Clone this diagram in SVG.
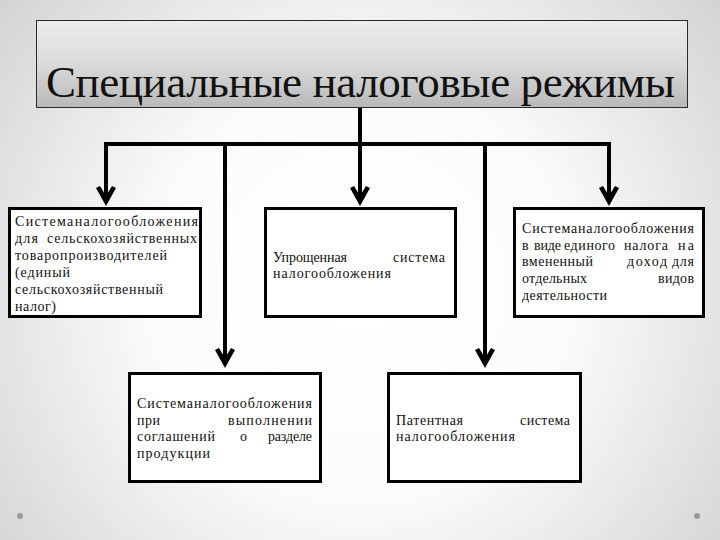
<svg xmlns="http://www.w3.org/2000/svg" width="720" height="540" viewBox="0 0 720 540">
<defs>
<radialGradient id="bg" cx="360" cy="290" r="470" gradientUnits="userSpaceOnUse">
<stop offset="0" stop-color="#ffffff"/>
<stop offset="0.45" stop-color="#fbfbfb"/>
<stop offset="1" stop-color="#d2d2d2"/>
</radialGradient>
<linearGradient id="tg" x1="0" y1="0" x2="0" y2="1">
<stop offset="0" stop-color="#ececec"/>
<stop offset="0.5" stop-color="#dadada"/>
<stop offset="1" stop-color="#b9b9b9"/>
</linearGradient>
<polygon id="ah" points="0,0 -10,-18 -6,-20 0,-10 6,-20 10,-18" fill="#000"/>
</defs>
<style>
.box{fill:#fff;stroke:#000;stroke-width:3}
.t{font-family:'Liberation Serif',serif;font-size:14px;fill:#111}
.ln{stroke:#000;stroke-width:4;fill:none}
</style>
<rect width="720" height="540" fill="url(#bg)"/>
<circle cx="20" cy="516" r="3" fill="#9a9a9a"/>
<circle cx="697" cy="516" r="3" fill="#9a9a9a"/>

<g id="title">
<rect x="36.5" y="20.5" width="651" height="87" fill="url(#tg)" stroke="#2a2a2a" stroke-width="1"/>
<text x="46" y="97" font-family="Liberation Serif" font-size="45" fill="#111" textLength="629">Специальные налоговые режимы</text>
</g>

<g id="connectors">
<line class="ln" x1="360" y1="108" x2="360" y2="146"/>
<line class="ln" x1="104" y1="144" x2="611" y2="144"/>
<line class="ln" x1="106" y1="144" x2="106" y2="202"/>
<line class="ln" x1="225" y1="144" x2="225" y2="364"/>
<line class="ln" x1="360" y1="144" x2="360" y2="202"/>
<line class="ln" x1="485" y1="144" x2="485" y2="364"/>
<line class="ln" x1="609" y1="144" x2="609" y2="202"/>
<use href="#ah" x="106" y="206"/>
<use href="#ah" x="360" y="206"/>
<use href="#ah" x="609" y="206"/>
<use href="#ah" x="225" y="368"/>
<use href="#ah" x="485" y="368"/>
</g>

<g id="node-esn">
<rect class="box" x="9.5" y="208.5" width="191" height="108"/>
<text class="t" x="15" y="226" textLength="183">Системаналогообложения</text>
<text class="t" x="15" y="243" textLength="23">для</text>
<text class="t" x="47" y="243" textLength="150">сельскохозяйственных</text>
<text class="t" x="15" y="260" textLength="152">товаропроизводителей</text>
<text class="t" x="15" y="277" textLength="55">(единый</text>
<text class="t" x="15" y="294" textLength="148">сельскохозяйственный</text>
<text class="t" x="15" y="311" textLength="41">налог)</text>
</g>

<g id="node-usn">
<rect class="box" x="265.5" y="208.5" width="190" height="108"/>
<text class="t" x="273" y="262" textLength="74">Упрощенная</text>
<text class="t" x="393" y="262" textLength="52">система</text>
<text class="t" x="273" y="278" textLength="118">налогообложения</text>
</g>

<g id="node-envd">
<rect class="box" x="514.5" y="208.5" width="189" height="108"/>
<text class="t" x="522" y="233" textLength="172">Системаналогообложения</text>
<text class="t" x="522" y="250">в</text>
<text class="t" x="534" y="250" textLength="27">виде</text>
<text class="t" x="564" y="250" textLength="51">единого</text>
<text class="t" x="624" y="250" textLength="44">налога</text>
<text class="t" x="678" y="250" textLength="16">на</text>
<text class="t" x="522" y="266" textLength="71">вмененный</text>
<text class="t" x="627" y="266" textLength="40">доход</text>
<text class="t" x="672" y="266" textLength="22">для</text>
<text class="t" x="522" y="283" textLength="65">отдельных</text>
<text class="t" x="658" y="283" textLength="36">видов</text>
<text class="t" x="522" y="300" textLength="85">деятельности</text>
</g>

<g id="node-srp">
<rect class="box" x="129.5" y="373.5" width="191" height="108"/>
<text class="t" x="137" y="408" textLength="175">Системаналогообложения</text>
<text class="t" x="137" y="424.5" textLength="23">при</text>
<text class="t" x="228" y="424.5" textLength="84">выполнении</text>
<text class="t" x="137" y="441" textLength="78">соглашений</text>
<text class="t" x="240" y="441">о</text>
<text class="t" x="268" y="441" textLength="44">разделе</text>
<text class="t" x="137" y="457.5" textLength="73">продукции</text>
</g>

<g id="node-psn">
<rect class="box" x="388.5" y="373.5" width="192" height="108"/>
<text class="t" x="396" y="425" textLength="67">Патентная</text>
<text class="t" x="520" y="425" textLength="50">система</text>
<text class="t" x="396" y="441" textLength="119">налогообложения</text>
</g>
</svg>
